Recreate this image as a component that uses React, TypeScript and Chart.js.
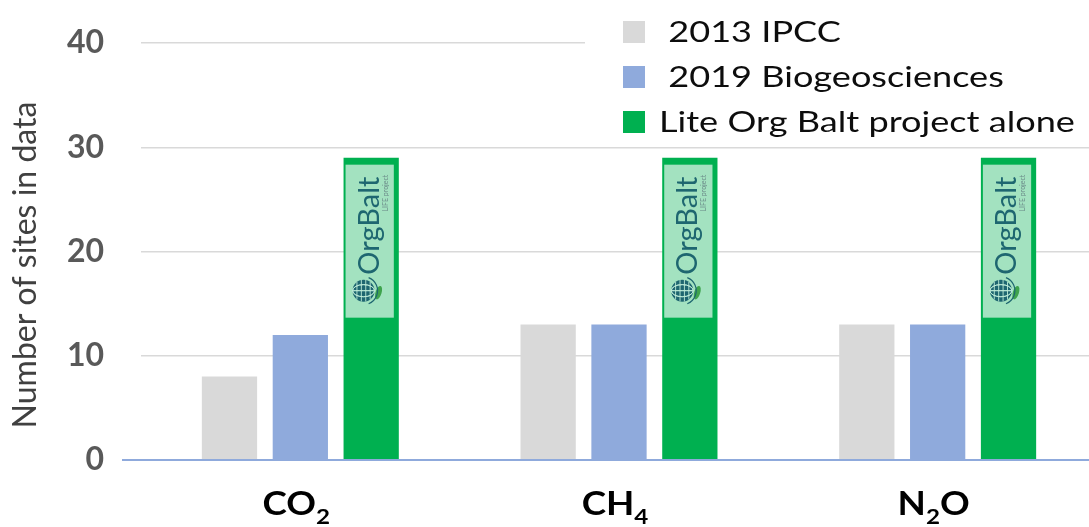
import React, { useEffect, useRef } from 'react';
import { Chart, registerables } from 'chart.js';

Chart.register(...registerables);

// ---- data ----
const categories = ['CO₂', 'CH₄', 'N₂O'];
const seriesLabels = [' 2013 IPCC', ' 2019 Biogeosciences', 'Lite Org Balt project alone'];
const ipcc2013 = [8, 13, 13];
const biogeo2019 = [12, 13, 13];
const orgBaltAlone = [29, 29, 29];
const seriesColors = ['#D9D9D9', '#8FAADC', '#00B050'];
const yTicks = [0, 10, 20, 30, 40];
const yTitle = 'Number of sites in data';
const logoText = 'OrgBalt';
const logoSubText = 'LIFE project';

const FONT = 'Lato, "Open Sans", "DejaVu Sans", sans-serif';
const SUBS: Record<string, string> = { '₀': '0', '₁': '1', '₂': '2', '₃': '3', '₄': '4', '₅': '5' };

function drawGlobe(ctx: CanvasRenderingContext2D, cx: number, cy: number, r: number) {
  ctx.save();
  ctx.fillStyle = '#1E6670';
  ctx.beginPath();
  ctx.arc(cx, cy, r, 0, Math.PI * 2);
  ctx.fill();
  ctx.strokeStyle = 'rgba(190,235,215,0.9)';
  ctx.lineWidth = 1;
  for (const k of [-0.55, 0, 0.55]) {
    ctx.beginPath();
    ctx.ellipse(cx, cy, r, Math.abs(k) * r + 0.01, 0, 0, Math.PI * 2);
    ctx.stroke();
  }
  for (const k of [-0.6, -0.2, 0.2, 0.6]) {
    ctx.beginPath();
    ctx.moveTo(cx + k * r, cy - Math.sqrt(1 - k * k) * r);
    ctx.lineTo(cx + k * r, cy + Math.sqrt(1 - k * k) * r);
    ctx.stroke();
  }
  ctx.fillStyle = '#3FA34D';
  ctx.beginPath();
  ctx.ellipse(cx + r + 4, cy + 2, 3, 7, 0.3, 0, Math.PI * 2);
  ctx.fill();
  ctx.strokeStyle = '#1E6670';
  ctx.lineWidth = 1.2;
  ctx.beginPath();
  ctx.arc(cx, cy, r + 3, -1.2, 1.2);
  ctx.stroke();
  ctx.restore();
}

const customPlugin = {
  id: 'customDecor',
  afterDatasetsDraw(chart: any) {
    const { ctx, chartArea, scales } = chart;
    const y0 = scales.y.getPixelForValue(0);
    ctx.save();
    ctx.strokeStyle = '#8FAADC';
    ctx.lineWidth = 2;
    ctx.beginPath();
    ctx.moveTo(chartArea.left - 19, y0);
    ctx.lineTo(chart.width, y0);
    ctx.stroke();

    const meta = chart.getDatasetMeta(2);
    meta.data.forEach((bar: any) => {
      const { x, y, width } = bar.getProps(['x', 'y', 'width'], true);
      const l = x - width / 2 + 2;
      const r = x + width / 2 - 5;
      const t = y + 7;
      const b = y + 160;
      ctx.fillStyle = 'rgba(255,255,255,0.64)';
      ctx.fillRect(l, t, r - l, b - t);
      ctx.save();
      ctx.translate(l + 33, t + 110);
      ctx.rotate(-Math.PI / 2);
      ctx.font = `29px ${FONT}`;
      ctx.fillStyle = '#1E6670';
      ctx.textAlign = 'left';
      ctx.textBaseline = 'alphabetic';
      ctx.fillText(logoText, 0, 0);
      ctx.font = `7px ${FONT}`;
      ctx.fillStyle = '#6A8A88';
      ctx.textAlign = 'right';
      ctx.fillText(logoSubText, 100, 9);
      ctx.restore();
      drawGlobe(ctx, l + 18, t + 126, 11);
    });
    ctx.restore();
  },
  afterDraw(chart: any) {
    const { ctx, chartArea, scales } = chart;
    ctx.save();
    // x category labels with subscripts
    const mainFont = `bold 32px ${FONT}`;
    const subFont = `bold 21px ${FONT}`;
    const sx = 1.15;
    const baseY = chartArea.bottom + 55;
    categories.forEach((cat, i) => {
      const cx = scales.x.getPixelForValue(i) - 4;
      const parts: { t: string; sub: boolean }[] = [];
      for (const ch of Array.from(cat)) {
        const sub = SUBS[ch] !== undefined;
        const t = sub ? SUBS[ch] : ch;
        const last = parts[parts.length - 1];
        if (last && last.sub === sub) last.t += t;
        else parts.push({ t, sub });
      }
      let total = 0;
      parts.forEach((p) => {
        ctx.font = p.sub ? subFont : mainFont;
        total += ctx.measureText(p.t).width;
      });
      ctx.save();
      ctx.translate(cx, 0);
      ctx.scale(sx, 1);
      let xx = -total / 2;
      ctx.fillStyle = '#000000';
      ctx.textAlign = 'left';
      ctx.textBaseline = 'alphabetic';
      parts.forEach((p) => {
        ctx.font = p.sub ? subFont : mainFont;
        ctx.fillText(p.t, xx, p.sub ? baseY + 9 : baseY);
        xx += ctx.measureText(p.t).width;
      });
      ctx.restore();
    });

    // y axis title
    ctx.save();
    ctx.translate(36, 265);
    ctx.rotate(-Math.PI / 2);
    ctx.font = `32px ${FONT}`;
    ctx.fillStyle = '#404040';
    ctx.textAlign = 'center';
    ctx.textBaseline = 'alphabetic';
    ctx.fillText(yTitle, 0, 0);
    ctx.restore();

    // legend
    ctx.fillStyle = '#FFFFFF';
    ctx.fillRect(585, 0, chart.width - 585, 140);
    chart.data.datasets.forEach((ds: any, i: number) => {
      const cy = 32 + 45 * i;
      ctx.fillStyle = ds.backgroundColor;
      ctx.fillRect(623, cy - 11, 22, 22);
      ctx.save();
      ctx.translate(659, cy + 10);
      ctx.scale(1.29, 1);
      ctx.font = `28px ${FONT}`;
      ctx.fillStyle = '#0D0D0D';
      ctx.textAlign = 'left';
      ctx.textBaseline = 'alphabetic';
      ctx.fillText(ds.label, 0, 0);
      ctx.restore();
    });
    ctx.restore();
  },
};

export default function App() {
  const canvasRef = useRef<HTMLCanvasElement | null>(null);

  useEffect(() => {
    if (!canvasRef.current) return;
    const chart = new Chart(canvasRef.current, {
      type: 'bar',
      data: {
        labels: categories,
        datasets: [
          { label: seriesLabels[0], data: ipcc2013, backgroundColor: seriesColors[0] },
          { label: seriesLabels[1], data: biogeo2019, backgroundColor: seriesColors[1] },
          { label: seriesLabels[2], data: orgBaltAlone, backgroundColor: seriesColors[2] },
        ],
      },
      options: {
        responsive: false,
        animation: false,
        devicePixelRatio: 1,
        layout: { padding: { top: 43, bottom: 59, left: 0, right: 0 } },
        datasets: {
          bar: { categoryPercentage: 0.667, barPercentage: 0.78 },
        },
        plugins: {
          legend: { display: false },
          tooltip: { enabled: false },
          title: { display: false },
        },
        scales: {
          x: {
            grid: { display: false },
            border: { display: false },
            ticks: { display: false },
          },
          y: {
            min: yTicks[0],
            max: yTicks[yTicks.length - 1],
            afterBuildTicks: (scale: any) => {
              scale.ticks = yTicks.map((v) => ({ value: v }));
            },
            afterFit: (scale: any) => {
              scale.width = 141;
              scale.paddingTop = 0;
              scale.paddingBottom = 0;
            },
            grid: {
              color: (c: any) => (c.tick && c.tick.value === 0 ? 'rgba(0,0,0,0)' : '#D9D9D9'),
              lineWidth: 1.5,
              drawTicks: false,
            },
            border: { display: false },
            ticks: {
              padding: 37,
              color: '#595959',
              font: { family: FONT, size: 32, weight: 'bold' },
            },
          },
        },
      },
      plugins: [customPlugin],
    } as any);
    return () => chart.destroy();
  }, []);

  return (
    <div style={{ position: 'absolute', left: 0, top: 0, width: 1089, height: 527, overflow: 'hidden', background: '#fff' }}>
      <canvas ref={canvasRef} width={1097} height={527} style={{ display: 'block' }} />
    </div>
  );
}
